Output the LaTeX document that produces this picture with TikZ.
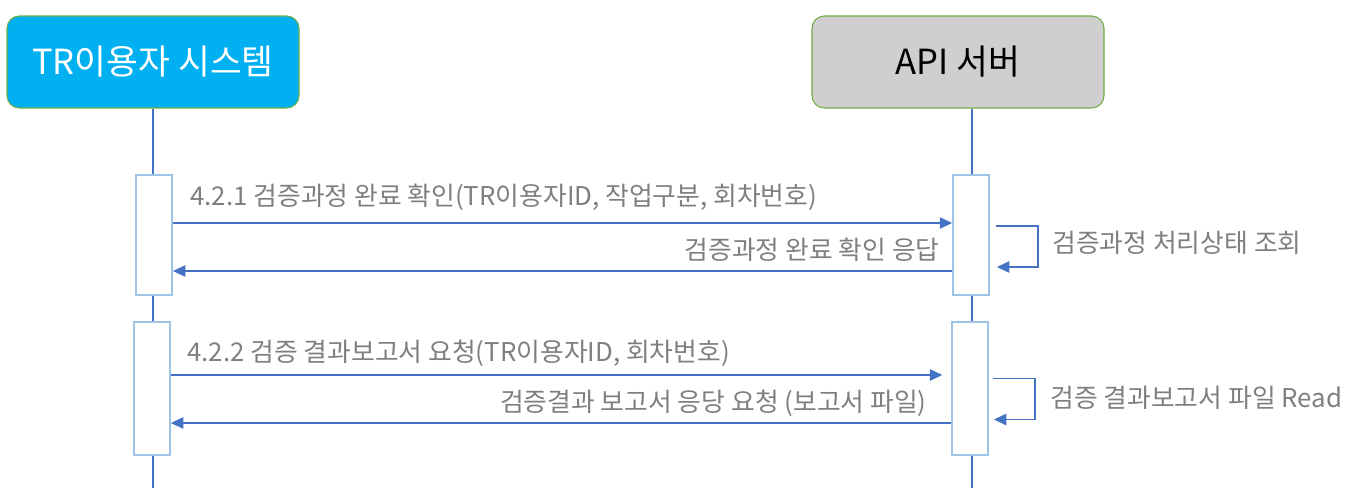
\documentclass[tikz,border=0pt]{standalone}
\usepackage{fontspec}
\setmainfont{Noto Sans CJK KR}
\usetikzlibrary{arrows.meta}

\definecolor{HeadBlue}{HTML}{00B0F0}
\definecolor{HeadGray}{HTML}{D0CECE}
\definecolor{HeadEdge}{HTML}{70AD47}
\definecolor{LifeBlue}{HTML}{4472C4}
\definecolor{ActEdge}{HTML}{9DC3E6}
\definecolor{MsgText}{HTML}{7F7F7F}

\tikzset{
  head/.style={draw=HeadEdge, line width=0.6pt, rounded corners=7pt,
    minimum width=292*0.02cm, minimum height=92*0.02cm, font=\fontsize{19.7}{23}\selectfont},
  act/.style={draw=ActEdge, fill=white, line width=1.1pt,
    minimum width=36*0.02cm, inner sep=0pt},
  life/.style={draw=LifeBlue, line width=1.6pt},
  msg/.style={draw=LifeBlue, line width=0.6pt, -{Triangle[length=7pt,width=6.5pt]}},
  lbl/.style={text=MsgText, font=\fontsize{14.7}{17}\selectfont, inner sep=0pt}
}

\begin{document}
\begin{tikzpicture}[x=0.02cm, y=-0.02cm]

	\useasboundingbox (0,0) rectangle (1358,488);

	% participants
	\node[head, fill=HeadBlue, text=white] (tr) at (153,62) {TR이용자 시스템};
	\node[head, fill=HeadGray, text=black] (api) at (958,62) {API 서버};

	\coordinate (trend) at (153,488);
	\coordinate (apiend) at (972,488);
	\draw[life] (tr.south) -- (trend);
	\draw[life] (api.south -| apiend) -- (apiend);

	% activations
	\node[act, minimum height=120*0.02cm] (a1) at (154,235) {};
	\node[act, minimum height=133*0.02cm] (a2) at (152,388.5) {};
	\node[act, minimum height=120*0.02cm] (b1) at (971,235) {};
	\node[act, minimum height=133*0.02cm] (b2) at (970,388.5) {};

	% 4.2.1
	\draw[msg] (a1.east |- 0,223) -- (b1.west |- 0,223);
	\node[lbl, anchor=west] (m1) at (190,197) {4.2.1 검증과정 완료 확인(TR이용자ID, 작업구분, 회차번호)};
	\draw[msg] ([shift={(6,-9)}]b1.east) -- ++(42,0) -- ++(0,41) -- ++(-41,0);
	\node[lbl, anchor=west] (s1) at (1052,243) {검증과정 처리상태 조회};
	\draw[msg] (b1.west |- 0,271) -- (a1.east |- 0,271);
	\node[lbl, anchor=east] (r1) at (940,250) {검증과정 완료 확인 응답};

	% 4.2.2
	\draw[msg] (a2.east |- 0,375) -- ([xshift=-5]b2.west |- 0,375);
	\node[lbl, anchor=west] (m2) at (187,353) {4.2.2 검증 결과보고서 요청(TR이용자ID, 회차번호)};
	\draw[msg] ([shift={(4,-10)}]b2.east) -- ++(42,0) -- ++(0,41) -- ++(-41,0);
	\node[lbl, anchor=west] (s2) at (1050,398) {검증 결과보고서 파일 Read};
	\draw[msg] (b2.west |- 0,423) -- (a2.east |- 0,423);
	\node[lbl, anchor=east] (r2) at (927,403) {검증결과 보고서 응당 요청 (보고서 파일)};

\end{tikzpicture}
\end{document}
